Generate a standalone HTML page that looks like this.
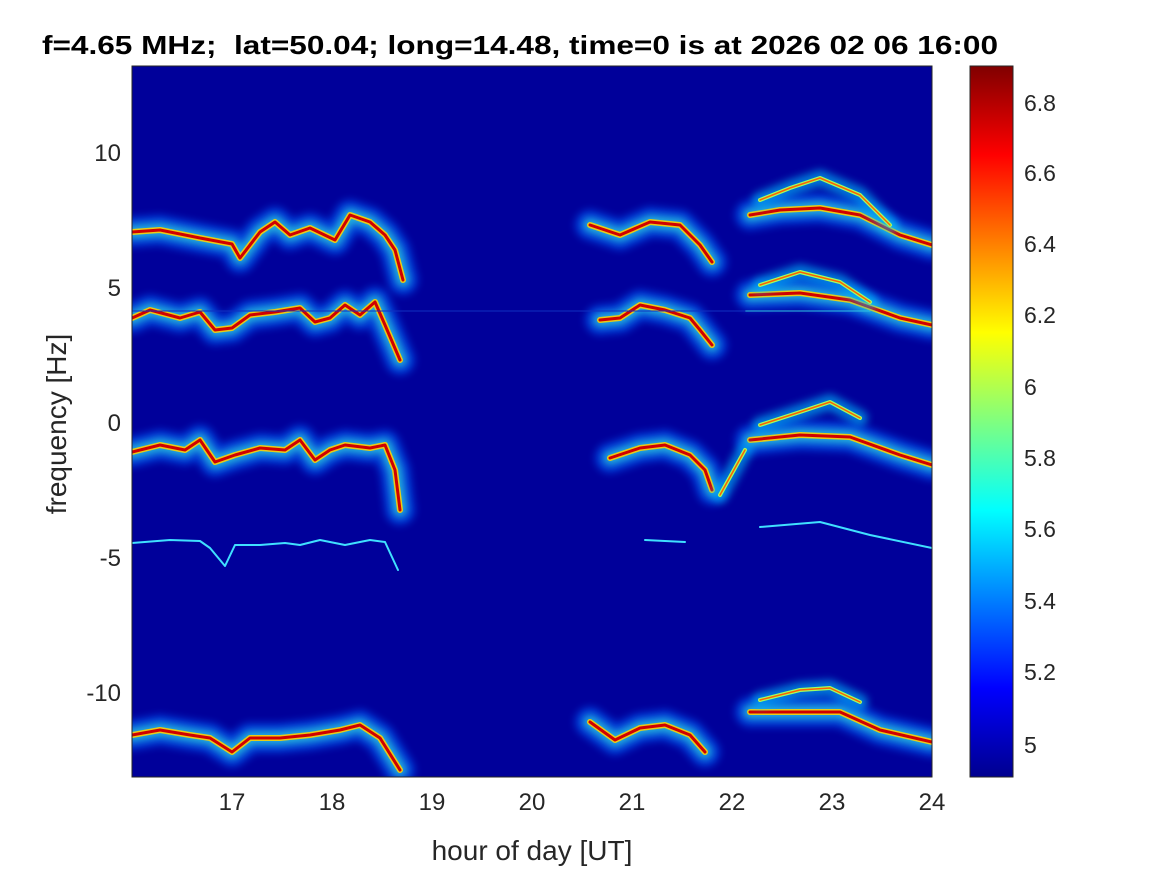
<!DOCTYPE html><html><head><style>body{margin:0;background:#fff}svg{display:block;font-family:"Liberation Sans",sans-serif}</style></head><body>
<svg width="1167" height="875" viewBox="0 0 1167 875">
<defs>
<linearGradient id="jet" x1="0" y1="1" x2="0" y2="0">
<stop offset="0" stop-color="#00008f"/><stop offset="0.125" stop-color="#0000ff"/><stop offset="0.375" stop-color="#00ffff"/><stop offset="0.625" stop-color="#ffff00"/><stop offset="0.875" stop-color="#ff0000"/><stop offset="1" stop-color="#800000"/>
</linearGradient>
<filter id="bl" x="-10%" y="-50%" width="120%" height="200%"><feGaussianBlur stdDeviation="4"/></filter>
<clipPath id="cp"><rect x="132" y="66" width="800" height="711"/></clipPath>
</defs>
<rect x="132" y="66" width="800" height="711" fill="#00009a"/>
<g clip-path="url(#cp)" fill="none" stroke-linejoin="round" stroke-linecap="round">
<g id="b">
<polyline points="132,232 160,230 200,238 232,244 240,258 260,232 275,222 290,235 310,228 335,240 350,215 370,222 385,235 395,250 403,280"/>
<polyline points="132,318 150,310 180,318 200,312 215,330 232,328 250,315 275,312 300,308 315,322 330,318 345,305 360,315 375,302 385,325 400,360"/>
<polyline points="132,452 160,445 185,450 200,440 215,462 235,455 260,448 285,450 300,440 315,460 330,450 345,445 370,448 385,445 395,470 400,510"/>
<polyline points="132,735 160,730 190,735 210,738 232,752 250,738 280,738 310,735 340,730 360,725 380,738 400,770"/>
<polyline points="590,225 620,235 650,222 680,225 700,245 712,262"/>
<polyline points="600,320 620,318 640,305 665,310 690,318 700,330 712,345"/>
<polyline points="610,458 640,448 665,445 690,455 705,470 712,490"/>
<polyline points="590,722 615,740 640,728 665,725 690,735 705,752"/>
<polyline points="750,215 780,210 820,208 860,215 900,235 932,245"/>
<polyline points="750,295 800,293 850,300 900,318 932,325"/>
<polyline points="750,440 800,435 850,437 900,455 932,465"/>
<polyline points="750,712 800,712 840,712 880,730 932,742"/>
</g>
<use href="#b" stroke="#0060ff" stroke-width="30" opacity="0.6" filter="url(#bl)"/>
<use href="#b" stroke="#30e0e0" stroke-width="14" opacity="0.7" filter="url(#bl)"/>
<use href="#b" stroke="#ffd000" stroke-width="6" opacity="0.9"/>
<use href="#b" stroke="#d00000" stroke-width="3"/>
<g id="a">
<polyline points="760,200 790,188 820,178 860,195 890,225"/>
<polyline points="760,285 800,272 840,282 870,302"/>
<polyline points="760,425 800,412 830,402 860,418"/>
<polyline points="760,700 800,690 830,688 860,702"/>
<polyline points="720,495 745,450"/>
</g>
<use href="#a" stroke="#00c0ff" stroke-width="16" opacity="0.6" filter="url(#bl)"/>
<use href="#a" stroke="#a0ff60" stroke-width="4"/>
<use href="#a" stroke="#ff6000" stroke-width="1.5"/>
<g stroke="#40e0ff" stroke-width="2">
<polyline points="132,543 170,540 200,541 210,548 225,566 235,545 260,545 285,543 300,545 320,540 345,545 370,540 385,542 398,570"/>
<polyline points="645,540 685,542"/>
<polyline points="760,527 820,522 870,535 932,548"/>
</g>
<line x1="745" y1="311" x2="870" y2="311" stroke="#30c0e0" stroke-width="1"/>
<line x1="132" y1="311" x2="745" y2="311" stroke="#1030c0" stroke-width="1"/>
</g>
<rect x="132" y="66" width="800" height="711" fill="none" stroke="#262626" stroke-width="1"/>
<g font-size="24" fill="#262626" text-anchor="middle">
<text x="232" y="810">17</text><text x="332" y="810">18</text><text x="432" y="810">19</text><text x="532" y="810">20</text><text x="632" y="810">21</text><text x="732" y="810">22</text><text x="832" y="810">23</text><text x="932" y="810">24</text>
<text x="532" y="860" font-size="28">hour of day [UT]</text>
</g>
<g font-size="24" fill="#262626" text-anchor="end">
<text x="121" y="161">10</text><text x="121" y="296">5</text><text x="121" y="431">0</text><text x="121" y="566">-5</text><text x="121" y="701">-10</text>
</g>
<text transform="translate(66,424) rotate(-90)" font-size="28" fill="#262626" text-anchor="middle">frequency [Hz]</text>
<text x="42" y="54" font-size="26" font-weight="bold" fill="#000" textLength="956" lengthAdjust="spacingAndGlyphs" xml:space="preserve">f=4.65 MHz;  lat=50.04; long=14.48, time=0 is at 2026 02 06 16:00</text>
<rect x="970" y="66" width="43" height="711" fill="url(#jet)" stroke="#262626" stroke-width="1"/>
<g font-size="23" fill="#262626">
<text x="1024" y="111">6.8</text><text x="1024" y="181">6.6</text><text x="1024" y="252">6.4</text><text x="1024" y="323">6.2</text><text x="1024" y="395">6</text><text x="1024" y="466">5.8</text><text x="1024" y="537">5.6</text><text x="1024" y="609">5.4</text><text x="1024" y="680">5.2</text><text x="1024" y="753">5</text>
</g>
</svg></body></html>
